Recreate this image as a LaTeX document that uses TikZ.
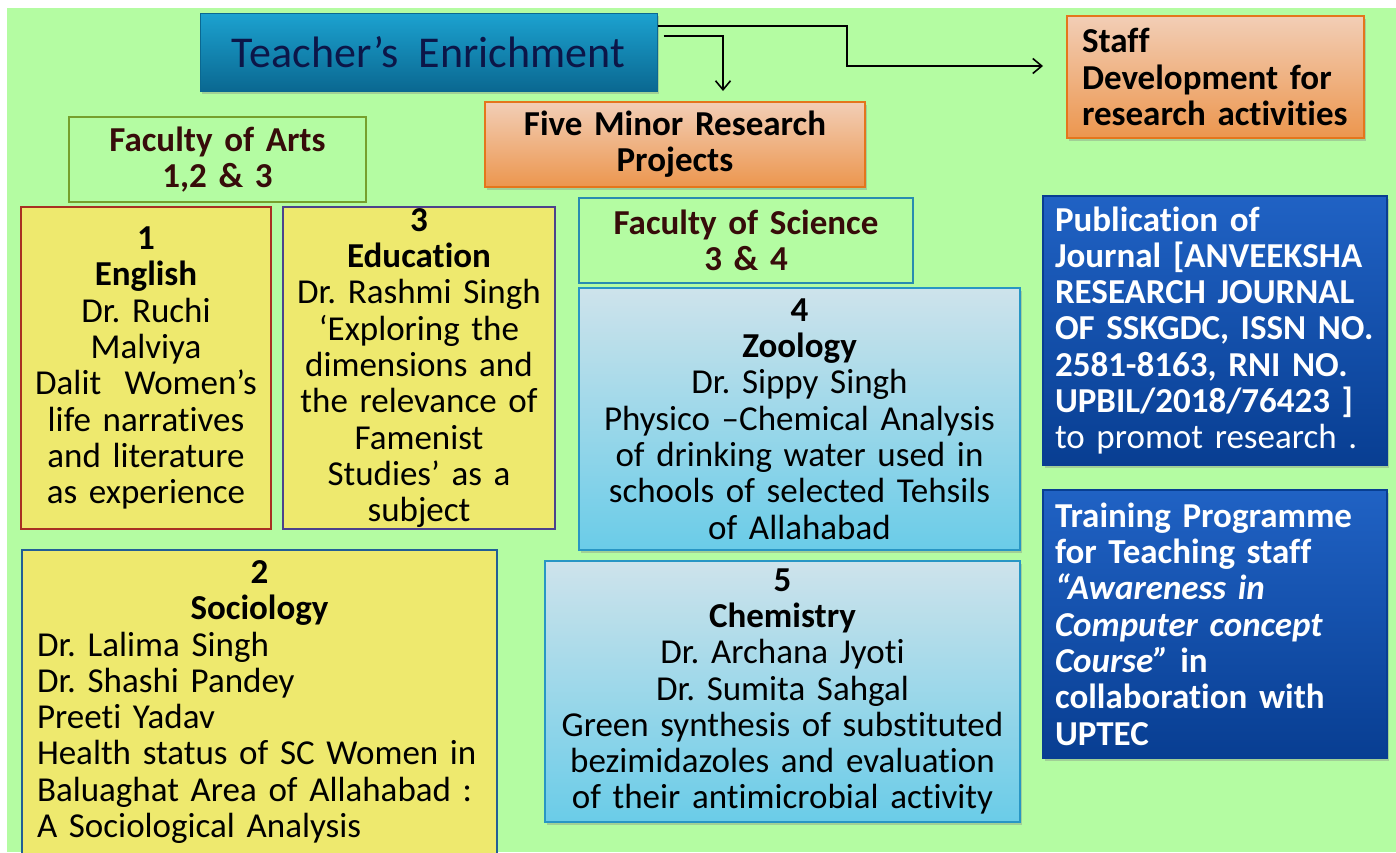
\documentclass[tikz,border=0pt]{standalone}
\usepackage{fontspec}
\setmainfont{Carlito}[Ligatures={NoCommon,NoRequired,NoContextual},Contextuals=NoAlternate]
\frenchspacing
\usetikzlibrary{shadows,arrows.meta}
\definecolor{bggreen}{RGB}{180,252,162}
\definecolor{tealtop}{RGB}{28,162,208}
\definecolor{tealbot}{RGB}{10,104,145}
\definecolor{navytext}{RGB}{12,22,72}
\definecolor{orangetop}{RGB}{242,206,182}
\definecolor{orangebot}{RGB}{236,150,78}
\definecolor{orangeline}{RGB}{228,118,28}
\definecolor{oliveline}{RGB}{118,160,45}
\definecolor{tealline}{RGB}{40,140,176}
\definecolor{yellowfill}{RGB}{238,233,110}
\definecolor{redline}{RGB}{168,48,34}
\definecolor{purpleline}{RGB}{76,66,140}
\definecolor{steelline}{RGB}{34,94,150}
\definecolor{skytop}{RGB}{206,227,235}
\definecolor{skybot}{RGB}{106,204,232}
\definecolor{skyline}{RGB}{40,150,196}
\definecolor{deeptop}{RGB}{32,98,196}
\definecolor{deepbot}{RGB}{8,62,146}
\definecolor{browntext}{RGB}{55,12,10}
\newcommand\txtsize{\fontsize{35}{36.3}\selectfont}
\newcommand\hdsize{\fontsize{35}{36.3}\selectfont\bfseries}
\begin{document}
\begin{tikzpicture}[x=1pt,y=-1pt,
	box/.style={draw,line width=1.3pt,inner xsep=10pt,inner ysep=0pt,align=center,font=\txtsize},
	lifted/.style={drop shadow={shadow xshift=2pt,shadow yshift=-2.5pt,opacity=.35}},
	titlebox/.style={box,lifted,top color=tealtop,bottom color=tealbot,draw=tealbot,line width=1pt,text=navytext,font=\fontsize{44}{50}\selectfont},
	orangebox/.style={box,lifted,top color=orangetop,bottom color=orangebot,draw=orangeline,font=\hdsize},
	facultybox/.style={box,fill=bggreen,text=browntext,font=\hdsize},
	yellowbox/.style={box,fill=yellowfill},
	skybox/.style={box,lifted,top color=skytop,bottom color=skybot,draw=skyline},
	deepbox/.style={box,lifted,top color=deeptop,bottom color=deepbot,draw=deepbot,text=white,align=left,inner xsep=12pt,font=\hdsize},
	link/.style={line width=1.6pt,-{Straight Barb[length=9pt,width=15pt]}}]
	\useasboundingbox (0,0) rectangle (1396,852);
	\clip (0,0) rectangle (1396,852);
	\fill[white] (0,0) rectangle (1396,852);
	\fill[bggreen] (7,8) rectangle (1396,852);

	\node[titlebox,minimum width=457,minimum height=78] (teacher) at (428.5,52) {Teacher’s\ \ Enrichment};
	\node[orangebox,align=left,inner xsep=15pt,text width=267,minimum width=297,minimum height=122] (staff) at (1215.5,77) {Staff\\Development for\\research activities};
	\node[orangebox,text width=360,minimum width=380,minimum height=85] (minor) at (675,144.5) {Five Minor Research\\Projects};
	\node[facultybox,draw=oliveline,text width=277,minimum width=297,minimum height=85] (arts) at (217.5,159.5) {Faculty of Arts\\1,2 \& 3};
	\node[facultybox,draw=tealline,text width=314,minimum width=334,minimum height=85] (science) at (746,240.5) {Faculty of Science\\3 \& 4};

	\node[yellowbox,draw=redline,text width=230,minimum width=250,minimum height=322] (english) at (146,368)
		{\textbf{1}\\\textbf{English}\\Dr. Ruchi\\Malviya\\Dalit\ \ Women’s\\life narratives\\and literature\\as experience};
	\node[yellowbox,draw=purpleline,text width=252,minimum width=272,minimum height=322] (education) at (419,368)
		{\textbf{3}\\\textbf{Education}\\Dr. Rashmi Singh\\‘Exploring the\\dimensions and\\the relevance of\\Famenist\\Studies’ as a\\subject};
	\node[yellowbox,draw=steelline,align=left,inner xsep=15pt,text width=445,minimum width=475,minimum height=304] (sociology) at (259.5,702)
		{\makebox[445pt]{\bfseries 2}\\\makebox[445pt]{\bfseries Sociology}\\Dr. Lalima Singh\\Dr. Shashi Pandey\\Preeti Yadav\\Health status of SC Women in\\Baluaghat Area of Allahabad :\\A Sociological Analysis};

	\node[skybox,text width=421,minimum width=441,minimum height=262] (zoology) at (799.5,419)
		{\textbf{4}\\\textbf{Zoology}\\Dr. Sippy Singh\\Physico –Chemical Analysis\\of drinking water used in\\schools of selected Tehsils\\of Allahabad};
	\node[skybox,text width=455,minimum width=475,minimum height=261] (chemistry) at (782.5,691.5)
		{\textbf{5}\\\textbf{Chemistry}\\Dr. Archana Jyoti\\Dr. Sumita Sahgal\\Green synthesis of substituted\\bezimidazoles and evaluation\\of their antimicrobial activity};

	\node[deepbox,text width=320,minimum width=344,minimum height=269] (journal) at (1215,330.5)
		{Publication of\\Journal [ANVEEKSHA\\RESEARCH JOURNAL\\OF SSKGDC, ISSN NO.\\2581-8163, RNI NO.\\UPBIL/2018/76423 ]\\\mdseries to promot research .};
	\node[deepbox,text width=320,minimum width=344,minimum height=268] (training) at (1215,624)
		{Training Programme\\for Teaching staff\\\textit{“Awareness in}\\\textit{Computer concept}\\\textit{Course”} in\\collaboration with\\UPTEC};

	\coordinate (bend) at (847,66);
	\coordinate (staff-in) at (1043,66);
	\coordinate (minor-in) at (723,91);
	\draw[link] ([yshift=26pt]teacher.east) -| (bend) -- (staff-in);
	\draw[link] ([xshift=6pt,yshift=16pt]teacher.east) -| (minor-in);
\end{tikzpicture}
\end{document}
